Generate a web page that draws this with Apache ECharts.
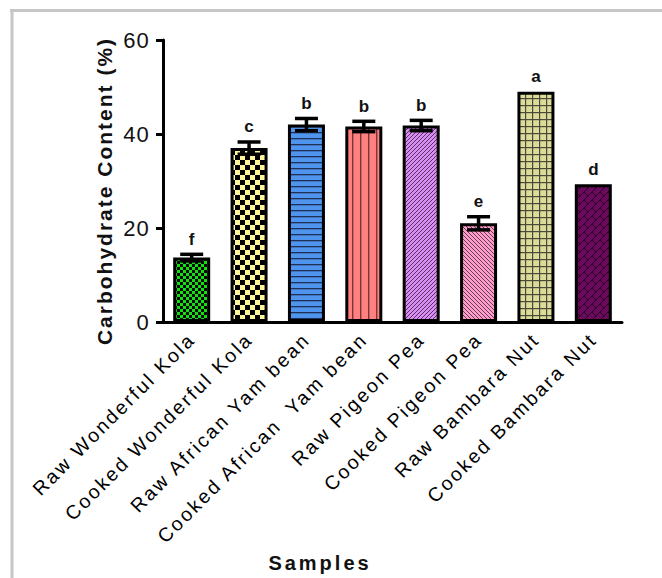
<!DOCTYPE html>
<html>
<head>
<meta charset="utf-8">
<script src="https://cdn.jsdelivr.net/npm/echarts@6/dist/echarts.min.js"></script>
<style>
  html, body { margin: 0; padding: 0; background: #fff; }
  #chart { width: 662px; height: 578px; }
  #chart text { white-space: pre; }
  /* per-role letter spacing, keyed on the font size each role uses */
  #chart text[style*="19.5px"] { letter-spacing: 2.4px; }
  #chart text[style*="20px"] { letter-spacing: 3px; }
  #chart text[style*="21px"] { letter-spacing: 2px; }
  #chart text[style*="22px"] { letter-spacing: 1.2px; }
</style>
</head>
<body>
<div id="chart"></div>
<script>
// Samples and their carbohydrate content (%), mean and spread
const categories = [
  'Raw Wonderful Kola',
  'Cooked Wonderful Kola',
  'Raw African Yam bean',
  'Cooked African  Yam bean',
  'Raw Pigeon Pea',
  'Cooked Pigeon Pea',
  'Raw Bambara Nut',
  'Cooked Bambara Nut'
];
const carbValues = [13.7, 37.0, 42.0, 41.6, 41.8, 21.0, 49.0, 29.3];
const sdValues = [0.7, 1.3, 1.3, 1.1, 1.1, 1.4, 0, 0];
const groupLetters = ['f', 'c', 'b', 'b', 'b', 'e', 'a', 'd'];
const yMin = 0, yMax = 60, yStep = 20;

const FONT = '"Liberation Sans", Arial, sans-serif';

// Small repeating tiles used as hatch fills for the bars
function tile(w, h, bg, draw) {
  const c = document.createElement('canvas');
  c.width = w; c.height = h;
  const g = c.getContext('2d');
  g.fillStyle = bg;
  g.fillRect(0, 0, w, h);
  draw(g, w, h);
  return { image: c, repeat: 'repeat', imageWidth: w, imageHeight: h };
}
function diag(g, p, dir, color, lw) {
  g.strokeStyle = color; g.lineWidth = lw;
  g.beginPath();
  for (let k = -1; k <= 1; k++) {
    if (dir > 0) { g.moveTo(k * p - 1, p + 1); g.lineTo(k * p + p + 1, -1); }
    else { g.moveTo(k * p - 1, -1); g.lineTo(k * p + p + 1, p + 1); }
  }
  g.stroke();
}

const fills = [
  tile(6, 6, '#14e014', (g) => { g.fillStyle = '#0a0a0a'; g.fillRect(0, 0, 3, 3); g.fillRect(3, 3, 3, 3); }),
  tile(10, 10, '#fff79a', (g) => { g.fillStyle = '#000'; g.fillRect(0, 0, 5, 5); g.fillRect(5, 5, 5, 5); }),
  tile(6, 6, '#4f95ee', (g) => { g.fillStyle = '#1f2f55'; g.fillRect(0, 0, 6, 1.3); }),
  tile(8, 8, '#ff8080', (g) => { g.fillStyle = '#7a3535'; g.fillRect(0, 0, 1.4, 8); }),
  tile(4, 4, '#d98df2', (g) => diag(g, 4, 1, '#5a3366', 1)),
  tile(4, 4, '#ff9ccc', (g) => diag(g, 4, -1, '#553344', 0.9)),
  tile(7, 7, '#dcdc9a', (g) => { g.fillStyle = '#4a4a3a'; g.fillRect(0, 0, 7, 1.2); g.fillRect(0, 0, 1.2, 7); }),
  tile(8, 8, '#6a0a5c', (g) => {
    diag(g, 8, 1, '#2a0024', 1);
    g.strokeStyle = '#2a0024'; g.lineWidth = 1;
    g.beginPath(); g.moveTo(0, 0); g.lineTo(4, 4); g.moveTo(4, 8); g.lineTo(8, 12); g.moveTo(4, -4); g.lineTo(8, 0); g.stroke();
  })
];

const chart = echarts.init(document.getElementById('chart'), null, { renderer: 'svg' });

const option = {
  animation: false,
  backgroundColor: '#fff',
  grid: { left: 163, right: 40, top: 40, bottom: 256, containLabel: false },
  xAxis: {
    type: 'category',
    data: categories,
    boundaryGap: true,
    axisLine: { lineStyle: { color: '#000', width: 3 } },
    axisTick: { alignWithLabel: true, length: 8, lineStyle: { color: '#000', width: 3 } },
    axisLabel: { interval: 0, rotate: 45, margin: 14, color: '#000', fontSize: 19.5, fontFamily: FONT }
  },
  yAxis: {
    type: 'value',
    min: yMin, max: yMax, interval: yStep,
    splitLine: { show: false },
    axisLine: { show: true, lineStyle: { color: '#000', width: 3 } },
    axisTick: { show: true, length: 7, lineStyle: { color: '#000', width: 3 } },
    axisLabel: { margin: 13, color: '#111', fontSize: 22, fontFamily: FONT }
  },
  graphic: [
    { type: 'line', shape: { x1: 12, y1: 9, x2: 12, y2: 578 }, style: { stroke: '#c6c6c6', lineWidth: 3 } },
    { type: 'line', shape: { x1: 10, y1: 10.5, x2: 662, y2: 10.5 }, style: { stroke: '#c6c6c6', lineWidth: 3 } },
    {
      type: 'text', x: 104, y: 191, rotation: Math.PI / 2,
      style: { text: 'Carbohydrate Content (%)', textAlign: 'center', textVerticalAlign: 'middle',
               font: 'bold 21px ' + FONT, fill: '#111' }
    },
    {
      type: 'text', x: 320, y: 563,
      style: { text: 'Samples', textAlign: 'center', textVerticalAlign: 'middle',
               font: 'bold 20px ' + FONT, fill: '#111' }
    }
  ],
  series: [
    {
      type: 'bar',
      barWidth: 37,
      z: 2,
      data: carbValues.map((v, i) => ({
        value: v,
        itemStyle: { color: fills[i], borderColor: '#000', borderWidth: 3 }
      }))
    },
    {
      type: 'custom',
      z: 5,
      data: carbValues.map((v, i) => [i, v, sdValues[i]]),
      encode: { x: 0, y: 1 },
      renderItem: (params, api) => {
        const i = api.value(0), v = api.value(1), sd = api.value(2);
        const hi = api.coord([i, v + sd]);
        const lo = api.coord([i, v - sd]);
        const cap = 11.5;
        const stroke = { stroke: '#000', lineWidth: 3.5 };
        const children = [];
        if (sd > 0) {
          children.push(
            { type: 'line', shape: { x1: hi[0], y1: hi[1], x2: lo[0], y2: lo[1] }, style: stroke },
            { type: 'line', shape: { x1: hi[0] - cap, y1: hi[1], x2: hi[0] + cap, y2: hi[1] }, style: stroke },
            { type: 'line', shape: { x1: lo[0] - cap, y1: lo[1], x2: lo[0] + cap, y2: lo[1] }, style: stroke }
          );
        }
        children.push({
          type: 'text', x: hi[0], y: hi[1] - 15,
          style: { text: groupLetters[params.dataIndex], textAlign: 'center', textVerticalAlign: 'middle',
                   font: 'bold 17px ' + FONT, fill: '#111' }
        });
        return { type: 'group', children };
      }
    }
  ]
};

chart.setOption(option);
</script>
</body>
</html>
